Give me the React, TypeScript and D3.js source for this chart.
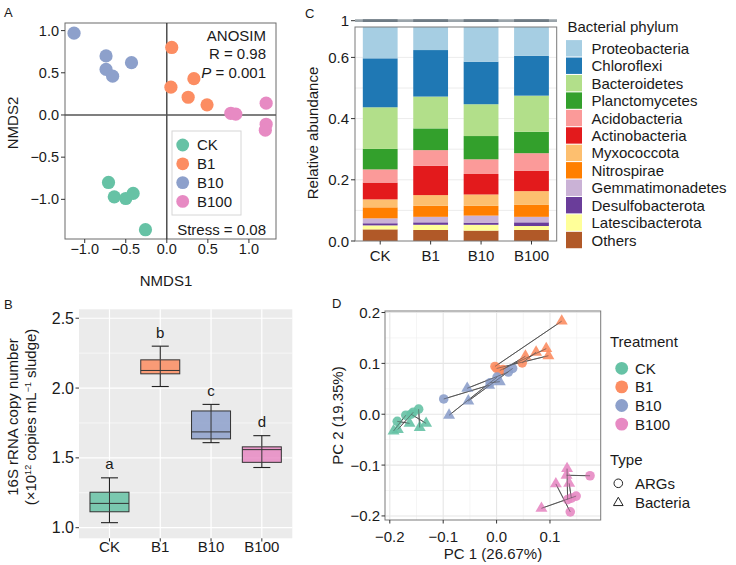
import React from 'react';
import * as d3 from 'd3';

// groups and colours shared by all panels
const groups = ['CK', 'B1', 'B10', 'B100'];
const groupColors = ['#66C2A5', '#FC8D62', '#8DA0CB', '#E78AC3'];

// Panel A: NMDS scores [NMDS1, NMDS2]
const nmdsCK = [[-0.71, -0.80], [-0.64, -0.97], [-0.50, -0.99], [-0.41, -0.93], [-0.26, -1.36]];
const nmdsB1 = [[0.06, 0.80], [0.33, 0.43], [0.05, 0.33], [0.26, 0.21], [0.49, 0.12]];
const nmdsB10 = [[-1.13, 0.97], [-0.74, 0.70], [-0.74, 0.54], [-0.66, 0.46], [-0.43, 0.62]];
const nmdsB100 = [[0.78, 0.02], [0.84, 0.01], [1.21, 0.14], [1.21, -0.11], [1.20, -0.18]];
const nmdsTicks = [-1.0, -0.5, 0.0, 0.5, 1.0];

// Panel B: 16S rRNA copy number box stats
const boxLow = [1.036, 2.011, 1.609, 1.431];
const boxQ1 = [1.114, 2.102, 1.636, 1.468];
const boxMedian = [1.174, 2.126, 1.686, 1.559];
const boxQ3 = [1.254, 2.202, 1.836, 1.579];
const boxHigh = [1.357, 2.300, 1.883, 1.659];
const boxLetters = ['a', 'b', 'c', 'd'];
const copyTicks = [1.0, 1.5, 2.0, 2.5];

// Panel C: relative abundance by phylum (CK, B1, B10, B100)
const phyla = ['Proteobacteria', 'Chloroflexi', 'Bacteroidetes', 'Planctomycetes', 'Acidobacteria',
  'Actinobacteria', 'Myxococcota', 'Nitrospirae', 'Gemmatimonadetes', 'Desulfobacterota',
  'Latescibacterota', 'Others'];
const phylumColors = ['#A6CEE3', '#1F78B4', '#B2DF8A', '#33A02C', '#FB9A99', '#E31A1C',
  '#FDBF6F', '#FF7F00', '#CAB2D6', '#6A3D9A', '#FFFF99', '#B15928'];
const proteobacteria = [0.40, 0.38, 0.41, 0.39];
const chloroflexi = [0.160, 0.152, 0.139, 0.130];
const bacteroidetes = [0.136, 0.104, 0.104, 0.118];
const planctomycetes = [0.067, 0.071, 0.076, 0.070];
const acidobacteria = [0.043, 0.051, 0.048, 0.057];
const actinobacteria = [0.055, 0.096, 0.067, 0.067];
const myxococcota = [0.026, 0.035, 0.037, 0.045];
const nitrospirae = [0.036, 0.036, 0.032, 0.039];
const gemmatimonadetes = [0.016, 0.018, 0.023, 0.018];
const desulfobacterota = [0.007, 0.008, 0.007, 0.012];
const latescibacterota = [0.013, 0.017, 0.019, 0.013];
const others = [0.038, 0.036, 0.034, 0.036];
const abundanceTicks = [0.0, 0.2, 0.4, 0.6];

// Panel D: procrustes PCA, each pair = ARGs (circle) -> Bacteria (triangle)
const pcaArgsCK = [[-0.186, -0.014], [-0.170, -0.002], [-0.156, 0.004], [-0.146, 0.010], [-0.160, 0.000]];
const pcaBactCK = [[-0.163, -0.018], [-0.193, -0.033], [-0.185, -0.030], [-0.144, -0.026], [-0.132, -0.018]];
const pcaArgsB1 = [[-0.003, 0.094], [0.000, 0.090], [0.006, 0.086], [0.048, 0.101], [0.012, 0.088]];
const pcaBactB1 = [[0.122, 0.183], [0.097, 0.115], [0.093, 0.129], [0.074, 0.122], [0.054, 0.114]];
const pcaArgsB10 = [[-0.099, 0.030], [0.001, 0.073], [0.022, 0.083], [0.030, 0.090], [-0.012, 0.062]];
const pcaBactB10 = [[-0.014, 0.057], [-0.089, -0.002], [-0.055, 0.051], [-0.053, 0.026], [0.006, 0.064]];
const pcaArgsB100 = [[0.175, -0.121], [0.133, -0.168], [0.138, -0.192], [0.149, -0.161], [0.140, -0.165]];
const pcaBactB100 = [[0.131, -0.120], [0.132, -0.107], [0.111, -0.137], [0.084, -0.185], [0.136, -0.136]];
const pcXTicks = [-0.2, -0.1, 0.0, 0.1];
const pcYTicks = [-0.2, -0.1, 0.0, 0.1, 0.2];

const FONT = '"Liberation Sans", Arial, Helvetica, sans-serif';
const TXT = '#1a1a1a';

function PanelA() {
  const x = d3.scaleLinear().domain([-1.24, 1.33]).range([65, 276]);
  const y = d3.scaleLinear().domain([-1.47, 1.09]).range([239, 23]);
  const sets = [nmdsCK, nmdsB1, nmdsB10, nmdsB100];
  const fmt = d3.format('.1f');
  return (
    <g>
      <text x={4} y={17} fontSize={13}>A</text>
      <rect x={65} y={23} width={211} height={216} fill="#fff" stroke="#6b6b6b" strokeWidth={1} />
      <line x1={x(0)} x2={x(0)} y1={23} y2={239} stroke="#333" strokeWidth={1.3} />
      <line x1={65} x2={276} y1={y(0)} y2={y(0)} stroke="#555" strokeWidth={1.5} />
      {nmdsTicks.map(t => (
        <g key={'ax' + t}>
          <line x1={x(t)} x2={x(t)} y1={239} y2={243} stroke="#333" />
          <text x={x(t)} y={253.5} textAnchor="middle" fontSize={14.5}>{fmt(t)}</text>
          <line x1={61} x2={65} y1={y(t)} y2={y(t)} stroke="#333" />
          <text x={59} y={y(t) + 5} textAnchor="end" fontSize={14.5}>{fmt(t)}</text>
        </g>
      ))}
      {sets.map((s, gi) => s.map((p, i) => (
        <circle key={gi + '-' + i} cx={x(p[0])} cy={y(p[1])} r={6.6} fill={groupColors[gi]} />
      )))}
      <text x={266} y={40.5} textAnchor="end" fontSize={15}>ANOSIM</text>
      <text x={266} y={59} textAnchor="end" fontSize={15}>R = 0.98</text>
      <text x={266} y={77.5} textAnchor="end" fontSize={15}><tspan fontStyle="italic">P</tspan> = 0.001</text>
      <rect x={172} y={131} width={69} height={84} fill="#fff" stroke="#d6d6d6" />
      {groups.map((g, i) => (
        <g key={'la' + g}>
          <circle cx={182.7} cy={145 + i * 18.8} r={6.4} fill={groupColors[i]} />
          <text x={197} y={145 + i * 18.8 + 5.3} fontSize={15}>{g}</text>
        </g>
      ))}
      <text x={266} y={234.5} textAnchor="end" fontSize={15}>Stress = 0.08</text>
      <text x={166} y={285.5} textAnchor="middle" fontSize={15}>NMDS1</text>
      <text transform="translate(18,123) rotate(-90)" textAnchor="middle" fontSize={15}>NMDS2</text>
    </g>
  );
}

function PanelB() {
  const x = d3.scalePoint().domain(groups).range([79, 292.3]).padding(0.6);
  const y = d3.scaleLinear().domain([0.924, 2.564]).range([538.3, 309.3]);
  const minor = [1.25, 1.75, 2.25];
  const fmt = d3.format('.1f');
  const bw = 39;
  return (
    <g>
      <text x={4} y={309} fontSize={13}>B</text>
      <rect x={79} y={309.3} width={213.3} height={229} fill="#EBEBEB" />
      {minor.map(t => <line key={'mn' + t} x1={79} x2={292.3} y1={y(t)} y2={y(t)} stroke="#fff" strokeWidth={0.6} />)}
      {copyTicks.map(t => <line key={'mj' + t} x1={79} x2={292.3} y1={y(t)} y2={y(t)} stroke="#fff" strokeWidth={1.2} />)}
      {groups.map(g => <line key={'vg' + g} x1={x(g)} x2={x(g)} y1={309.3} y2={538.3} stroke="#fff" strokeWidth={1.2} />)}
      {copyTicks.map(t => (
        <g key={'bt' + t}>
          <line x1={75.5} x2={79} y1={y(t)} y2={y(t)} stroke="#333" />
          <text x={74} y={y(t) + 5.5} textAnchor="end" fontSize={16}>{fmt(t)}</text>
        </g>
      ))}
      {groups.map((g, i) => {
        const cx = x(g) as number;
        return (
          <g key={'bx' + g}>
            <line x1={cx} x2={cx} y1={y(boxHigh[i])} y2={y(boxQ3[i])} stroke="#222" strokeWidth={1.1} />
            <line x1={cx} x2={cx} y1={y(boxQ1[i])} y2={y(boxLow[i])} stroke="#222" strokeWidth={1.1} />
            <rect x={cx - bw / 2} y={y(boxQ3[i])} width={bw} height={y(boxQ1[i]) - y(boxQ3[i])}
              fill={groupColors[i]} fillOpacity={0.85} stroke="#333" strokeWidth={1} />
            <line x1={cx - bw / 2} x2={cx + bw / 2} y1={y(boxMedian[i])} y2={y(boxMedian[i])} stroke="#333" strokeWidth={1} />
            <line x1={cx} x2={cx} y1={y(boxQ3[i])} y2={y(boxQ1[i])} stroke="#333" strokeWidth={1} />
            <line x1={cx - 8.5} x2={cx + 8.5} y1={y(boxHigh[i])} y2={y(boxHigh[i])} stroke="#222" strokeWidth={1.1} />
            <line x1={cx - 8.5} x2={cx + 8.5} y1={y(boxLow[i])} y2={y(boxLow[i])} stroke="#222" strokeWidth={1.1} />
            <text x={cx} y={y(boxHigh[i]) - 8.5} textAnchor="middle" fontSize={15}>{boxLetters[i]}</text>
            <line x1={cx} x2={cx} y1={538.3} y2={541.5} stroke="#333" />
            <text x={cx} y={551.5} textAnchor="middle" fontSize={15}>{g}</text>
          </g>
        );
      })}
      <text transform="translate(18,417) rotate(-90)" textAnchor="middle" fontSize={15}>16S rRNA copy number</text>
      <text transform="translate(36,417) rotate(-90)" textAnchor="middle" fontSize={15}>
        (×10<tspan fontSize={9} dy={-5}>12</tspan><tspan dy={5}> copies mL</tspan><tspan fontSize={9} dy={-5}>−1</tspan><tspan dy={5}> sludge)</tspan>
      </text>
    </g>
  );
}

function PanelC() {
  const x = d3.scaleBand().domain(groups).range([355, 556.7]).paddingInner(0.31).paddingOuter(0.155);
  const y = d3.scaleLinear().domain([0, 0.7]).range([241, 26.8]);
  const values = [proteobacteria, chloroflexi, bacteroidetes, planctomycetes, acidobacteria,
    actinobacteria, myxococcota, nitrospirae, gemmatimonadetes, desulfobacterota, latescibacterota, others];
  const rows = groups.map((g, gi) => {
    const r: any = { group: g };
    phyla.forEach((p, pi) => { r[p] = values[pi][gi]; });
    return r;
  });
  const stack = d3.stack().keys(phyla.slice().reverse())(rows);
  const grid = [0.1, 0.2, 0.3, 0.4, 0.5, 0.6];
  const fmt = d3.format('.1f');
  return (
    <g>
      <defs>
        <clipPath id="clipC"><rect x={355} y={27} width={202} height={214} /></clipPath>
      </defs>
      <text x={305} y={18} fontSize={13}>C</text>
      <rect x={355} y={27} width={201.7} height={214} fill="#fff" />
      {grid.map(t => <line key={'cg' + t} x1={355} x2={556.7} y1={y(t)} y2={y(t)} stroke="#ececec" strokeWidth={1} />)}
      <g clipPath="url(#clipC)">
        {stack.map(layer => {
          const ci = phyla.indexOf(layer.key as string);
          return layer.map((d, i) => (
            <rect key={layer.key + i} x={x(groups[i])} width={x.bandwidth()} y={y(d[1])}
              height={y(d[0]) - y(d[1])} fill={phylumColors[ci]} />
          ));
        })}
      </g>
      <rect x={355} y={27} width={201.7} height={214} fill="none" stroke="#7a7a7a" strokeWidth={1} />
      <line x1={355} x2={557} y1={20.7} y2={20.7} stroke="#9ba4aa" strokeWidth={2.8} />
      {groups.map(g => (
        <line key={'tb' + g} x1={x(g)} x2={(x(g) as number) + x.bandwidth()} y1={20.7} y2={20.7} stroke="#6f7b84" strokeWidth={2.8} />
      ))}
      {abundanceTicks.map(t => (
        <g key={'ct' + t}>
          <line x1={351} x2={355} y1={y(t)} y2={y(t)} stroke="#333" />
          <text x={349} y={y(t) + 5.5} textAnchor="end" fontSize={15}>{fmt(t)}</text>
        </g>
      ))}
      <line x1={351} x2={355} y1={20.7} y2={20.7} stroke="#333" />
      <text x={349} y={26} textAnchor="end" fontSize={15}>1</text>
      {groups.map(g => (
        <g key={'cx' + g}>
          <line x1={(x(g) as number) + x.bandwidth() / 2} x2={(x(g) as number) + x.bandwidth() / 2} y1={241} y2={244.5} stroke="#333" />
          <text x={(x(g) as number) + x.bandwidth() / 2} y={260.5} textAnchor="middle" fontSize={15}>{g}</text>
        </g>
      ))}
      <text transform="translate(318,133) rotate(-90)" textAnchor="middle" fontSize={15}>Relative abundance</text>
      <text x={567.5} y={32} fontSize={15}>Bacterial phylum</text>
      {phyla.map((p, i) => (
        <g key={'lc' + p}>
          <rect x={566} y={48.3 + i * 17.43 - 8.2} width={16} height={16.4} fill={phylumColors[i]} />
          <text x={591.5} y={48.3 + i * 17.43 + 5.5} fontSize={15}>{p}</text>
        </g>
      ))}
    </g>
  );
}

function PanelD() {
  const x = d3.scaleLinear().domain([-0.209, 0.195]).range([385, 600.7]);
  const y = d3.scaleLinear().domain([-0.208, 0.203]).range([520, 311]);
  const args = [pcaArgsCK, pcaArgsB1, pcaArgsB10, pcaArgsB100];
  const bact = [pcaBactCK, pcaBactB1, pcaBactB10, pcaBactB100];
  const tri = d3.symbol().type(d3.symbolTriangle).size(62)();
  const triSmall = d3.symbol().type(d3.symbolTriangle).size(40)();
  const fmt = d3.format('.1f');
  const xMinor = [-0.15, -0.05, 0.05, 0.15];
  const yMinor = [-0.15, -0.05, 0.05, 0.15];
  return (
    <g>
      <text x={332} y={308} fontSize={13}>D</text>
      <rect x={385} y={311} width={215.7} height={209} fill="#fff" />
      {xMinor.map(t => <line key={'dxm' + t} x1={x(t)} x2={x(t)} y1={311} y2={520} stroke="#f0f0f0" strokeWidth={0.7} />)}
      {yMinor.map(t => <line key={'dym' + t} x1={385} x2={600.7} y1={y(t)} y2={y(t)} stroke="#f0f0f0" strokeWidth={0.7} />)}
      {pcXTicks.map(t => <line key={'dxg' + t} x1={x(t)} x2={x(t)} y1={311} y2={520} stroke="#e6e6e6" strokeWidth={1.1} />)}
      {pcYTicks.map(t => <line key={'dyg' + t} x1={385} x2={600.7} y1={y(t)} y2={y(t)} stroke="#e6e6e6" strokeWidth={1.1} />)}
      {args.map((set, gi) => set.map((p, i) => (
        <line key={'seg' + gi + i} x1={x(p[0])} y1={y(p[1])} x2={x(bact[gi][i][0])} y2={y(bact[gi][i][1])}
          stroke="#555" strokeWidth={1} />
      )))}
      {args.map((set, gi) => set.map((p, i) => (
        <circle key={'ac' + gi + i} cx={x(p[0])} cy={y(p[1])} r={4.8} fill={groupColors[gi]} fillOpacity={0.9} />
      )))}
      {bact.map((set, gi) => set.map((p, i) => (
        <path key={'bt' + gi + i} d={tri} transform={`translate(${x(p[0])},${y(p[1])})`} fill={groupColors[gi]} fillOpacity={0.9} />
      )))}
      {args.map((set, gi) => set.map((p, i) => (
        <line key={'seg2' + gi + i} x1={x(p[0])} y1={y(p[1])} x2={x(bact[gi][i][0])} y2={y(bact[gi][i][1])}
          stroke="#555" strokeWidth={0.8} strokeOpacity={0.7} />
      )))}
      <rect x={385} y={311} width={215.7} height={209} fill="none" stroke="#7a7a7a" strokeWidth={1} />
      {pcXTicks.map(t => (
        <g key={'dxt' + t}>
          <line x1={x(t)} x2={x(t)} y1={520} y2={523.5} stroke="#333" />
          <text x={x(t)} y={542} textAnchor="middle" fontSize={15}>{fmt(t)}</text>
        </g>
      ))}
      {pcYTicks.map(t => (
        <g key={'dyt' + t}>
          <line x1={381.5} x2={385} y1={y(t)} y2={y(t)} stroke="#333" />
          <text x={380} y={y(t) + 5.5} textAnchor="end" fontSize={15}>{fmt(t)}</text>
        </g>
      ))}
      <text x={493} y={558.5} textAnchor="middle" fontSize={15}>PC 1 (26.67%)</text>
      <text transform="translate(343,415.5) rotate(-90)" textAnchor="middle" fontSize={15}>PC 2 (19.35%)</text>
      <text x={610} y={347} fontSize={15}>Treatment</text>
      {groups.map((g, i) => (
        <g key={'ld' + g}>
          <circle cx={621.7} cy={368.3 + i * 18.6} r={6.4} fill={groupColors[i]} />
          <text x={635} y={368.3 + i * 18.6 + 5.5} fontSize={15}>{g}</text>
        </g>
      ))}
      <text x={610} y={464.8} fontSize={15}>Type</text>
      <circle cx={618.3} cy={483.3} r={4.3} fill="none" stroke="#222" strokeWidth={1} />
      <text x={635} y={488.8} fontSize={15}>ARGs</text>
      <path d={triSmall} transform="translate(618.3,502.8)" fill="none" stroke="#222" strokeWidth={1} />
      <text x={635} y={507.8} fontSize={15}>Bacteria</text>
    </g>
  );
}

export default function App() {
  return (
    <svg width={736} height={565} viewBox="0 0 736 565"
      style={{ position: 'absolute', left: 0, top: 0, background: '#fff' }}
      fontFamily={FONT} fill={TXT}>
      <PanelA />
      <PanelB />
      <PanelC />
      <PanelD />
    </svg>
  );
}
